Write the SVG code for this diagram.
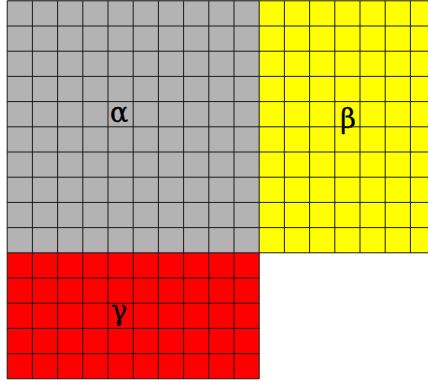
<svg xmlns="http://www.w3.org/2000/svg" width="428" height="381" viewBox="0 0 428 381">
<style>
.grid{fill:none;stroke:#1a1a1a;stroke-width:1}
.lbl{font-family:"DejaVu Serif",serif;font-size:27px;fill:#000;stroke:#000;stroke-width:0.4;text-anchor:middle}
</style>
<rect width="428" height="381" fill="#fff"/>
<g id="alpha">
<rect x="7.2" y="0" width="252" height="252.8" fill="#b3b3b3"/>
<text class="lbl" x="119" y="122">α</text>
</g>
<g id="beta">
<rect x="259.2" y="0" width="170" height="252.8" fill="#ffff00"/>
<text class="lbl" x="348" y="128">β</text>
</g>
<g id="gamma">
<rect x="7.2" y="252.8" width="252" height="126" fill="#ff0000"/>
<text class="lbl" x="119" y="320">γ</text>
</g>
<g id="grid">
<path class="grid" d="M7.2 0.8H430 M7.2 26H430 M7.2 51.2H430 M7.2 76.4H430 M7.2 101.6H430 M7.2 126.8H430 M7.2 152H430 M7.2 177.2H430 M7.2 202.4H430 M7.2 227.6H430 M7.2 252.8H430 M7.2 278H259.2 M7.2 303.2H259.2 M7.2 328.4H259.2 M7.2 353.6H259.2 M7.2 378.8H259.2 M7.2 0.8V378.8 M32.4 0.8V378.8 M57.6 0.8V378.8 M82.8 0.8V378.8 M108 0.8V378.8 M133.2 0.8V378.8 M158.4 0.8V378.8 M183.6 0.8V378.8 M208.8 0.8V378.8 M234 0.8V378.8 M259.2 0.8V378.8 M284.4 0.8V252.8 M309.6 0.8V252.8 M334.8 0.8V252.8 M360 0.8V252.8 M385.2 0.8V252.8 M410.4 0.8V252.8"/>
</g>
</svg>
